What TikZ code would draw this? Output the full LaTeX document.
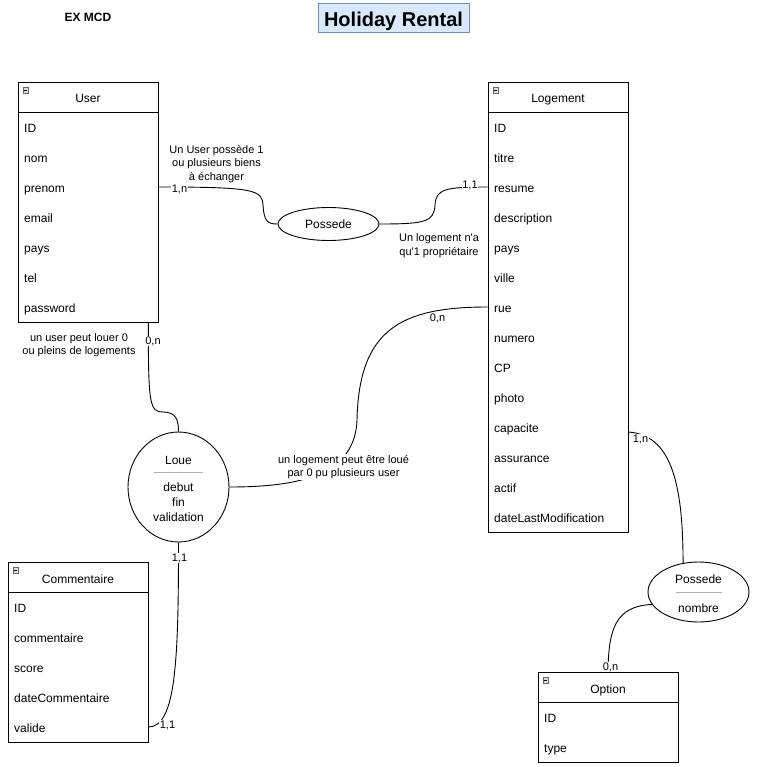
\documentclass[tikz,border=0pt]{standalone}
\usepackage{fontspec}
\setmainfont{Liberation Sans}
\usepackage{tikz}
\usetikzlibrary{shapes.geometric}

\definecolor{titlefill}{HTML}{DAE8FC}
\definecolor{titleline}{HTML}{6C8EBF}

\tikzset{
	entity/.style={draw=black, line width=0.9pt, minimum width=140pt, minimum height=30pt, inner sep=0pt, text height=12pt, text depth=0pt, font=\fontsize{12}{14}\selectfont},
	entitybody/.style={draw=black, line width=0.9pt, minimum width=140pt, inner sep=0pt},
	attr/.style={anchor=west, inner sep=0pt, text height=11pt, text depth=0pt, font=\fontsize{12}{14}\selectfont},
	toggle/.style={draw=gray!80!black, fill=gray!25, minimum size=5.5pt, inner sep=0pt, path picture={\draw[black, line width=0.6pt] ([xshift=1pt]path picture bounding box.west) -- ([xshift=-1pt]path picture bounding box.east);}},
	relation/.style={ellipse, draw=black, line width=0.9pt, inner sep=0pt, font=\fontsize{12}{14}\selectfont},
	relname/.style={inner sep=0pt, align=center, font=\fontsize{12}{15}\selectfont},
	link/.style={draw=black, line width=0.9pt},
	card/.style={fill=white, inner sep=0.6pt, font=\fontsize{11}{13}\selectfont},
	note/.style={fill=white, inner sep=1pt, align=center, font=\fontsize{11}{13.5}\selectfont}
}

\begin{document}
\begin{tikzpicture}[x=1pt, y=-1pt]

	\useasboundingbox (0,0) rectangle (758,767);

	% title
	\node[font=\fontsize{12}{14}\selectfont\bfseries] (exmcd) at (88,17) {EX MCD};
	\node[draw=titleline, fill=titlefill, line width=0.9pt, minimum width=151pt, minimum height=29pt, inner sep=0pt, text height=18pt, text depth=0pt, font=\fontsize{20}{24}\selectfont\bfseries] (title) at (393.5,17.5) {Holiday Rental};

	% User
	\node[entity] (user) at (88,97) {User};
	\node[entitybody, minimum height=210pt] (user-box) at (88,217) {};
	\node[toggle] at (25.5,90) {};
	\node[attr] (user-id)       at (24,127) {ID};
	\node[attr] (user-nom)      at (24,157) {nom};
	\node[attr] (user-prenom)   at (24,187) {prenom};
	\node[attr] (user-email)    at (24,217) {email};
	\node[attr] (user-pays)     at (24,247) {pays};
	\node[attr] (user-tel)      at (24,277) {tel};
	\node[attr] (user-password) at (24,307) {password};

	% Logement
	\node[entity] (logement) at (558,97) {Logement};
	\node[entitybody, minimum height=420pt] (logement-box) at (558,322) {};
	\node[toggle] at (495.5,90) {};
	\node[attr] (logement-id)          at (494,127) {ID};
	\node[attr] (logement-titre)       at (494,157) {titre};
	\node[attr] (logement-resume)      at (494,187) {resume};
	\node[attr] (logement-description) at (494,217) {description};
	\node[attr] (logement-pays)        at (494,247) {pays};
	\node[attr] (logement-ville)       at (494,277) {ville};
	\node[attr] (logement-rue)         at (494,307) {rue};
	\node[attr] (logement-numero)      at (494,337) {numero};
	\node[attr] (logement-cp)          at (494,367) {CP};
	\node[attr] (logement-photo)       at (494,397) {photo};
	\node[attr] (logement-capacite)    at (494,427) {capacite};
	\node[attr] (logement-assurance)   at (494,457) {assurance};
	\node[attr] (logement-actif)       at (494,487) {actif};
	\node[attr] (logement-datemodif)   at (494,517) {dateLastModification};

	% Commentaire
	\node[entity] (commentaire) at (78,577) {Commentaire};
	\node[entitybody, minimum height=150pt] (commentaire-box) at (78,667) {};
	\node[toggle] at (15.5,570) {};
	\node[attr] (commentaire-id)     at (14,607) {ID};
	\node[attr] (commentaire-texte)  at (14,637) {commentaire};
	\node[attr] (commentaire-score)  at (14,667) {score};
	\node[attr] (commentaire-date)   at (14,697) {dateCommentaire};
	\node[attr] (commentaire-valide) at (14,727) {valide};

	% Option
	\node[entity] (option) at (608,687) {Option};
	\node[entitybody, minimum height=60pt] (option-box) at (608,732) {};
	\node[toggle] at (545.5,680) {};
	\node[attr] (option-id)   at (544,717) {ID};
	\node[attr] (option-type) at (544,747) {type};

	% associations
	\node[relation, minimum width=101pt, minimum height=33pt] (possede) at (328.5,224) {Possede};

	\node[relation, minimum width=101pt, minimum height=110pt] (loue) at (178.5,487) {};
	\node[relname] (loue-name) at (178.5,460) {Loue};
	\draw[gray!60, line width=0.9pt] (153.5,472) -- (202.5,472);
	\node[relname] (loue-attrs) at (178.5,502) {debut\\fin\\validation};

	\node[relation, minimum width=101pt, minimum height=60pt] (possede2) at (698.5,592) {};
	\node[relname] (possede2-name) at (698.5,579) {Possede};
	\draw[gray!60, line width=0.9pt] (675.5,592) -- (721.5,592);
	\node[relname] (possede2-attrs) at (698.5,608) {nombre};

	% links
	\draw[link] (user-box.east |- user-prenom) .. controls (255,187) and (262,190) .. (263,205) .. controls (264,222) and (268,224) .. (possede.west);
	\draw[link] (possede.east) .. controls (425,224) and (434,222) .. (435,205) .. controls (436,189) and (445,187) .. (logement-box.west |- logement-resume);
	\draw[link] ([xshift=-10pt]user-box.south east) .. controls (148,405) and (150,412) .. (163,412) .. controls (176,412) and (178.5,420) .. (loue.north);
	\draw[link] (loue.east) .. controls (300,487) and (355,475) .. (357,420) .. controls (359,330) and (400,307) .. (logement-box.west |- logement-rue);
	\draw[link] (loue.south) .. controls (178.5,660) and (176,727) .. (commentaire-box.east |- commentaire-valide);
	\draw[link] ([yshift=-5pt]logement-box.east |- logement-capacite) .. controls (670,435) and (683,480) .. (possede2.118);
	\draw[link] (possede2.195) .. controls (615,606) and (608.5,630) .. (option.north);

	% cardinalities
	\node[card] (card-user-possede)  at (179.5,189) {1,n};
	\node[card] (card-logement-possede) at (470,185) {1,1};
	\node[card] (card-user-loue)     at (153,341) {0,n};
	\node[card] (card-logement-loue) at (437.5,318) {0,n};
	\node[card] (card-loue-top)      at (179.5,558) {1,1};
	\node[card] (card-commentaire)   at (167.5,725) {1,1};
	\node[card] (card-logement-opt)  at (640.5,439) {1,n};
	\node[card] (card-option)        at (610.5,667) {0,n};

	% notes
	\node[note] (note-possede)  at (216.5,164) {Un User possède 1\\ou plusieurs biens\\à échanger};
	\node[note] (note-proprio)  at (439,245.5) {Un logement n\textquotesingle a\\qu\textquotesingle 1 propriétaire};
	\node[note] (note-louer)    at (79,345) {un user peut louer 0\\ou pleins de logements};
	\node[note] (note-loue)     at (343.5,467) {un logement peut être loué\\par 0 pu plusieurs user};

\end{tikzpicture}
\end{document}
